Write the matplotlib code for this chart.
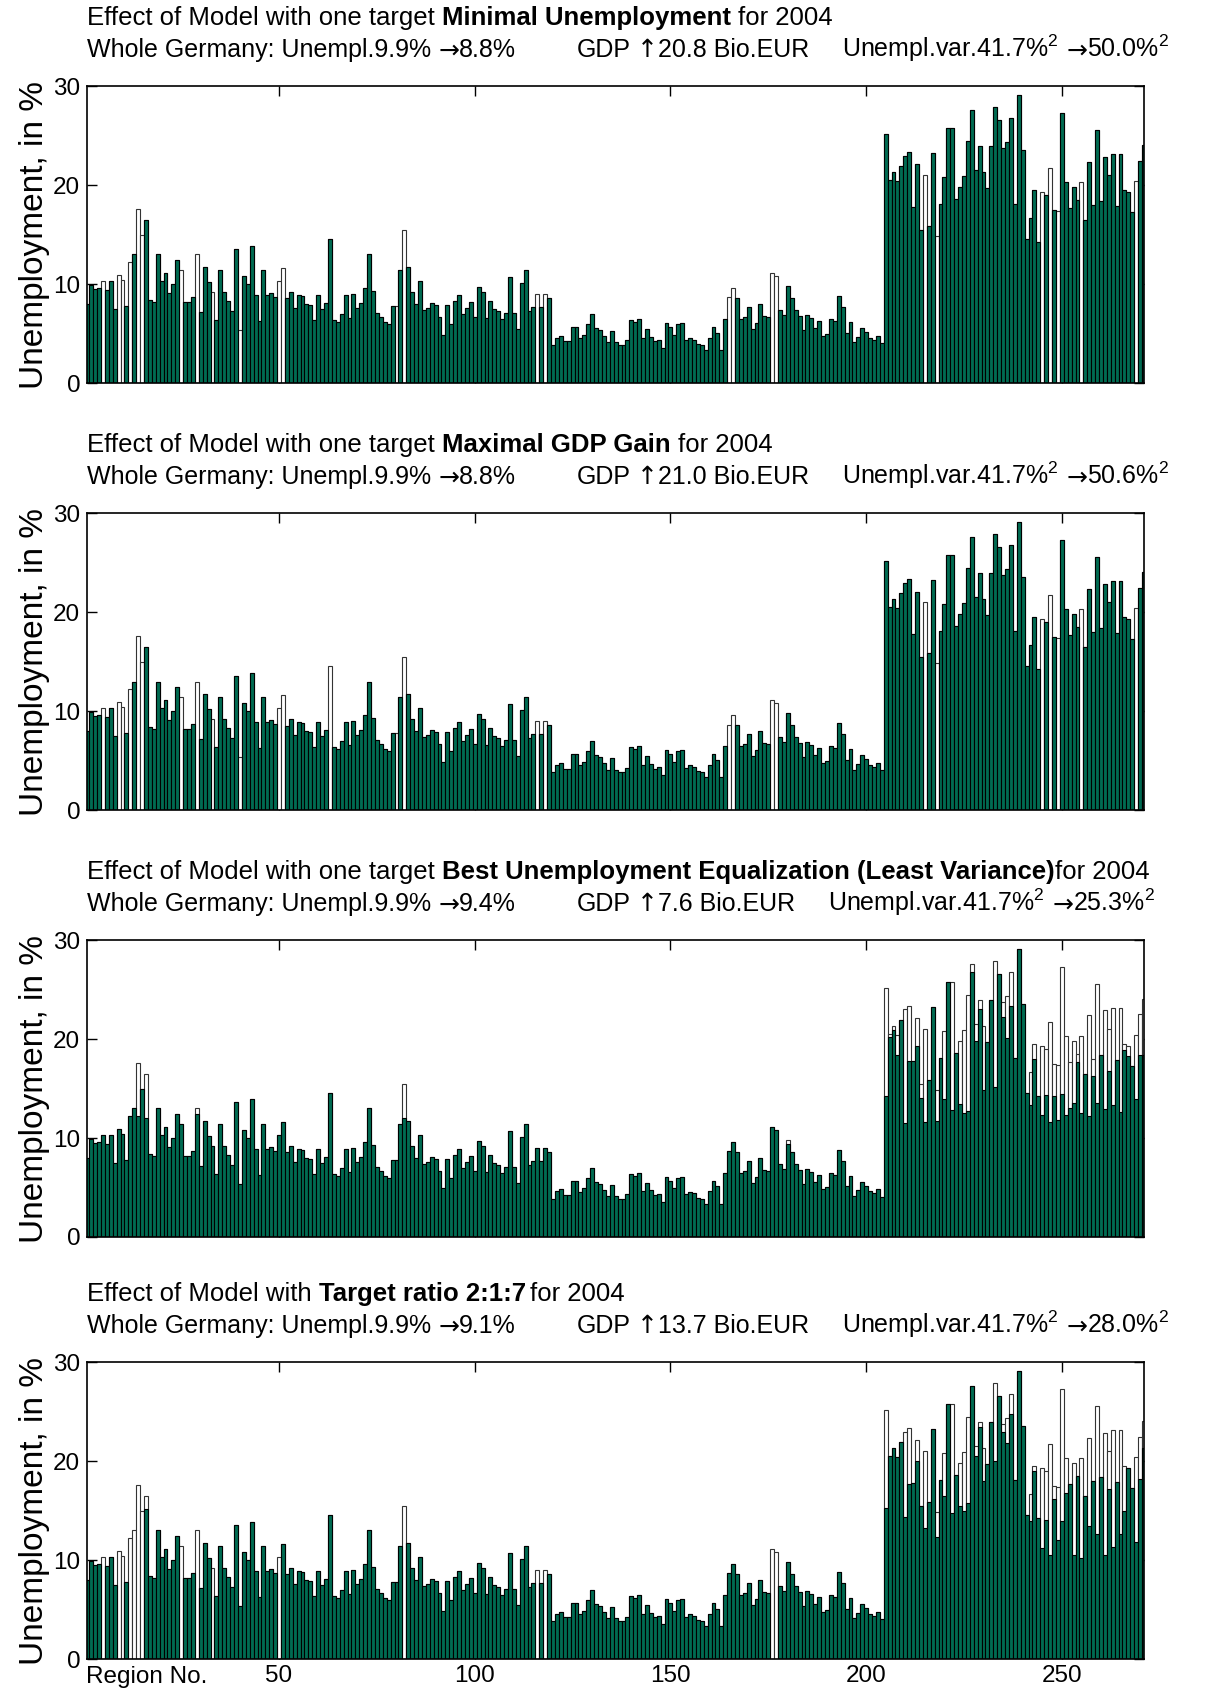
import matplotlib
matplotlib.use("Agg")
import matplotlib.pyplot as plt
import numpy as np

plt.rcParams["font.family"] = ["Liberation Sans", "DejaVu Sans"]
plt.rcParams["mathtext.fontset"] = "custom"
plt.rcParams["mathtext.rm"] = "Liberation Sans"
plt.rcParams["mathtext.bf"] = "Liberation Sans:bold"

# unemployment 2004 per region (white bars), regions 1..271
base = [
    8.0, 9.9, 9.5, 9.6, 10.3, 9.4, 10.3, 7.5, 10.9, 10.4,
    7.8, 12.2, 13.0, 17.6, 15.0, 16.5, 8.4, 8.2, 13.0, 10.3,
    11.1, 9.1, 10.0, 12.4, 11.4, 8.15, 8.2, 8.7, 13.0, 7.2,
    11.7, 10.2, 9.2, 6.4, 11.4, 9.2, 8.3, 7.3, 13.6, 5.4,
    10.8, 10.0, 13.9, 8.9, 6.3, 11.4, 8.9, 9.1, 8.7, 10.3,
    11.6, 8.55, 9.2, 7.6, 8.9, 8.8, 8.0, 7.9, 6.4, 8.9,
    7.5, 8.1, 14.6, 6.4, 6.2, 7.0, 8.9, 6.6, 9.0, 7.6,
    8.1, 9.6, 13.0, 9.3, 7.1, 6.7, 6.2, 6.0, 7.8, 7.8,
    11.4, 15.5, 11.7, 9.2, 8.0, 10.3, 7.4, 7.6, 8.1, 7.9,
    6.7, 4.9, 7.9, 6.0, 8.3, 8.9, 7.0, 7.6, 8.15, 6.7,
    9.7, 9.2, 6.6, 8.25, 7.5, 7.3, 6.5, 7.1, 10.7, 7.1,
    5.5, 10.1, 11.4, 7.3, 7.7, 9.0, 7.7, 9.0, 8.6, 3.85,
    4.6, 4.8, 4.2, 4.2, 5.7, 5.7, 4.55, 4.9, 6.0, 7.0,
    5.55, 5.4, 4.75, 4.1, 5.3, 4.1, 3.85, 3.85, 4.3, 6.4,
    6.2, 6.5, 4.6, 5.45, 4.7, 4.2, 4.35, 3.55, 6.1, 5.7,
    4.9, 6.0, 6.1, 4.3, 4.55, 4.4, 3.95, 3.8, 3.3, 4.6,
    5.7, 5.1, 3.35, 6.5, 8.65, 9.6, 8.6, 6.5, 6.7, 7.7,
    5.5, 6.1, 8.0, 6.8, 6.7, 11.1, 10.8, 7.35, 6.9, 9.8,
    8.6, 7.4, 6.8, 5.4, 6.9, 6.6, 5.6, 6.25, 4.8, 5.0,
    6.5, 6.3, 8.8, 7.7, 5.1, 6.2, 4.1, 4.7, 5.6, 5.2,
    4.6, 4.4, 4.8, 4.0, 25.2, 20.5, 21.3, 20.4, 21.9, 23.0,
    23.4, 17.8, 22.1, 15.5, 21.0, 15.85, 23.3, 14.9, 18.1, 20.8,
    25.8, 25.8, 18.6, 19.85, 20.9, 24.45, 27.6, 21.5, 24.0, 21.3,
    19.7, 24.0, 27.9, 26.6, 23.75, 24.35, 26.8, 18.1, 29.1, 23.6,
    14.6, 16.65, 19.5, 14.3, 19.3, 19.0, 21.7, 17.5, 17.4, 27.3,
    20.3, 17.7, 19.8, 18.5, 20.3, 16.5, 22.4, 18.0, 25.6, 18.4,
    22.9, 21.0, 23.2, 17.9, 23.2, 19.5, 19.3, 17.3, 20.4, 22.5,
    24.1,
]

# model result (green bars): regions whose value differs from base
zero_min_unempl = [5, 9, 10, 12, 14, 15, 25, 29, 33, 40, 50, 51, 80, 82,
                   116, 118, 165, 166, 176, 177, 215, 218, 245, 247, 249,
                   255, 269]
changes_p1 = {r: 0.0 for r in zero_min_unempl}
changes_p2 = dict(changes_p1)
changes_p2[63] = 0.0

changes_p3 = {
    14: 12.2, 16: 12.0, 29: 12.4, 82: 12.0, 180: 9.4,
    205: 14.3, 206: 20.2, 207: 20.9, 208: 18.4, 210: 11.5, 211: 17.8,
    213: 19.3, 214: 14.0, 215: 11.6, 218: 11.7, 220: 13.9, 222: 12.8,
    224: 13.4, 225: 12.5, 226: 12.7, 227: 26.8, 228: 19.8, 229: 23.0,
    230: 14.9, 233: 15.2, 235: 22.2, 236: 20.1, 237: 23.4, 242: 13.3,
    243: 18.0, 245: 12.3, 246: 14.4, 247: 11.6, 248: 14.3, 249: 11.8,
    250: 14.5, 251: 12.3, 252: 13.0, 253: 13.5, 254: 17.7, 255: 12.5,
    257: 12.2, 258: 16.3, 259: 13.5, 261: 12.9, 262: 16.8, 263: 13.3,
    265: 12.6, 266: 18.9, 267: 18.3, 269: 13.9, 270: 18.4, 271: 18.4,
}

changes_p4 = {
    5: 0.0, 9: 0.0, 10: 0.0, 12: 0.0, 13: 0.0, 14: 0.0, 15: 0.0, 16: 15.2,
    25: 0.0, 29: 0.0, 33: 0.0, 50: 0.0, 82: 0.0, 116: 0.0, 118: 0.0,
    176: 0.0, 177: 0.0,
    205: 15.3, 210: 14.4, 211: 17.7, 213: 20.0, 215: 13.3, 218: 12.3,
    220: 16.5, 222: 14.8, 224: 15.5, 225: 15.0, 226: 15.8, 228: 20.5,
    229: 23.5, 230: 18.0, 233: 20.0, 235: 23.0, 236: 21.8, 237: 24.8,
    242: 14.0, 243: 19.0, 245: 11.2, 246: 14.1, 247: 10.5, 248: 16.2,
    249: 12.0, 250: 14.0, 251: 16.8, 253: 10.5, 255: 10.2, 257: 13.5,
    259: 12.6, 261: 10.5, 262: 17.2, 263: 11.3, 265: 12.6, 266: 15.0,
    269: 11.8, 270: 18.2, 271: 21.3,
}

title_pre = ["Effect of Model with one target", "Effect of Model with one target",
             "Effect of Model with one target", "Effect of Model with"]
title_bold = ["Minimal Unemployment", "Maximal GDP Gain",
              "Best Unemployment Equalization (Least Variance)", "Target ratio 2:1:7"]
title_gap = [1.0, 1.0, 0.0, 0.6]   # spaces between bold part and "for 2004"
unempl_new = ["8.8", "8.8", "9.4", "9.1"]
gdp_gain = ["20.8", "21.0", "7.6", "13.7"]
var_new = ["50.0", "50.6", "25.3", "28.0"]
all_changes = [changes_p1, changes_p2, changes_p3, changes_p4]

GREEN = "#006b52"
regions = np.arange(1, len(base) + 1)

fig = plt.figure(figsize=(12.07, 17.0), dpi=100)
renderer = fig.canvas.get_renderer()
FW, FH = fig.bbox.width, fig.bbox.height
bottoms = [0.7747, 0.5235, 0.2724, 0.0241]


def draw_pieces(x_px, y_px, pieces):
    # pieces: (text, font kwargs, gap after in pixels); all share one baseline
    for s, kw, gap in pieces:
        t = fig.text(x_px / FW, y_px / FH, s, ha="left", va="baseline", **kw)
        bb = t.get_window_extent(renderer)
        x_px = bb.x1 + gap
    return x_px


for k in range(4):
    ax = fig.add_axes([0.0723, bottoms[k], 0.8755, 0.1745])
    ax.set_axisbelow(True)
    model = list(base)
    for r, v in all_changes[k].items():
        model[r - 1] = v
    ax.bar(regions, base, width=1.0, color="white", edgecolor="#333333", linewidth=0.8)
    ax.bar(regions, model, width=1.0, color=GREEN, edgecolor="black", linewidth=0.8)
    ax.set_xlim(1, len(base))
    ax.set_ylim(0, 30)
    ax.set_yticks([0, 10, 20, 30])
    ax.set_xticks([50, 100, 150, 200, 250])
    ax.tick_params(direction="in", top=True, right=True, length=7, width=1,
                   labelsize=17.5, pad=5)
    ax.set_ylabel("Unemployment, in %", fontsize=24, labelpad=2)
    for s in ax.spines.values():
        s.set_linewidth(1.2)
    if k < 3:
        ax.set_xticklabels([])
    else:
        ax.tick_params(axis="x", pad=4)
        ax.text(16.3, -0.022, "Region No.", transform=ax.get_xaxis_transform(),
                ha="center", va="top", fontsize=17.5)

    x0 = ax.bbox.x0
    top = ax.bbox.y1
    n1 = {"fontsize": 18.5}
    b1 = {"fontsize": 18.5, "fontweight": "bold"}
    sp1 = 18.5 * 100 / 72 * 0.278
    draw_pieces(x0, top + 61, [
        (title_pre[k], n1, sp1),
        (title_bold[k], b1, title_gap[k] * sp1),
        ("for 2004", n1, 0),
    ])
    n2 = {"fontsize": 18}
    ar = {"fontsize": 18, "family": "DejaVu Sans"}
    sp2 = 18 * 100 / 72 * 0.278
    y2 = top + 29
    draw_pieces(x0, y2, [
        ("Whole Germany: Unempl.9.9%", n2, sp2),
        ("\u2192", ar, 0),
        (unempl_new[k] + "%", n2, 0),
    ])
    xe = draw_pieces(x0 + 489, y2, [
        ("GDP", n2, sp2),
        ("\u2191", ar, 0),
        (gdp_gain[k] + " Bio.EUR", n2, 0),
    ])
    draw_pieces(xe + 33, y2, [
        ("Unempl.var.41.7%$^2$", n2, sp2),
        ("\u2192", ar, 0),
        (var_new[k] + "%$^2$", n2, 0),
    ])

fig.savefig("out.png", dpi=100)
